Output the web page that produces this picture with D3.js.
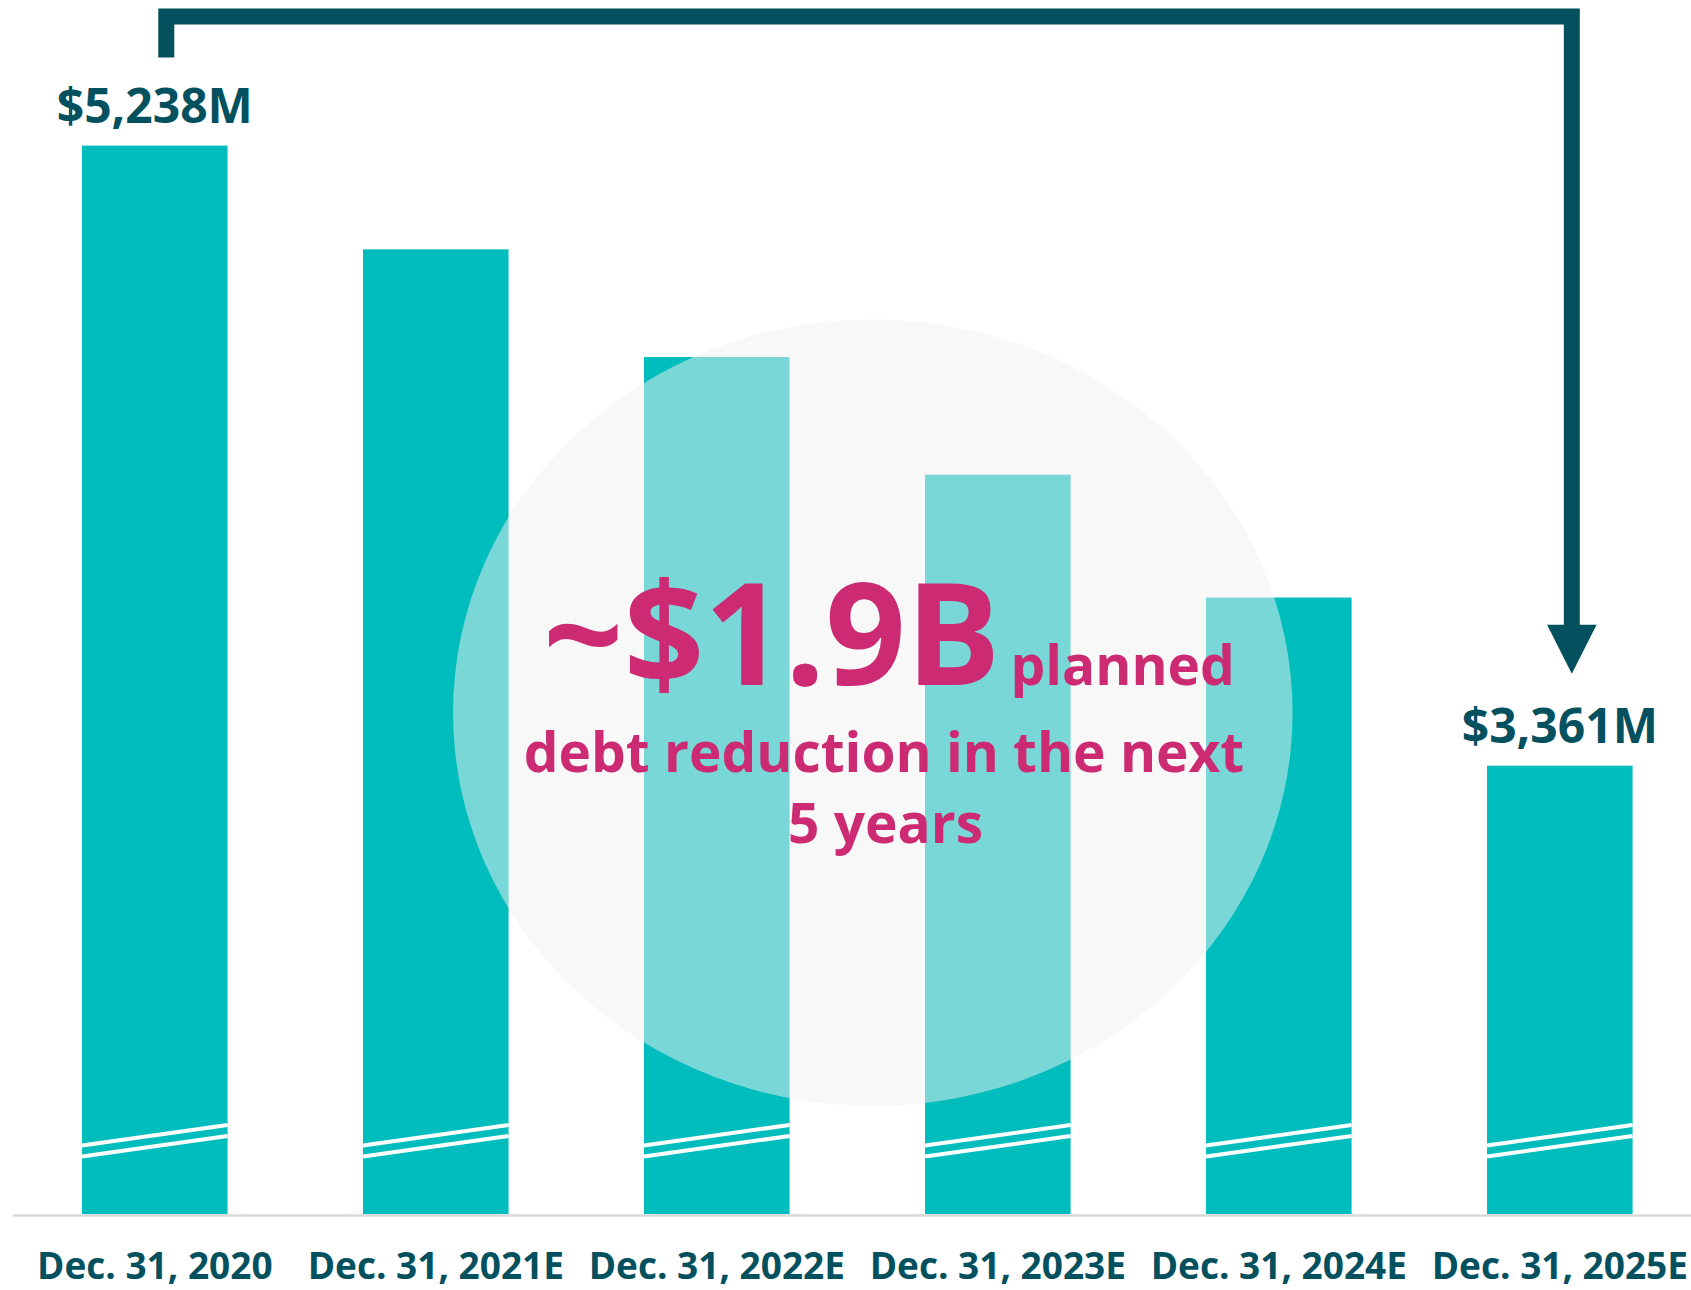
<!DOCTYPE html>
<html>
<head>
<meta charset="utf-8">
<script src="https://cdn.jsdelivr.net/npm/d3@7/dist/d3.min.js"></script>
<style>
  html, body { margin: 0; padding: 0; background: #ffffff; }
  svg { display: block; }
  text { font-family: "Open Sans", "Noto Sans", sans-serif; font-weight: 700; }
</style>
</head>
<body>
<svg id="chart" width="1691" height="1290"></svg>
<script>
// ---- data ----
const categories = ["Dec. 31, 2020", "Dec. 31, 2021E", "Dec. 31, 2022E", "Dec. 31, 2023E", "Dec. 31, 2024E", "Dec. 31, 2025E"];
const debtValues = [5238, 4924, 4598, 4242, 3870, 3361];
const valueLabels = ["$5,238M", null, null, null, null, "$3,361M"];
const calloutBig = "~$1.9B";
const calloutLines = ["planned", "debt reduction in the next", "5 years"];

// ---- colours ----
const barColor = "#00BDBD";
const darkTeal = "#03505E";
const magenta = "#CC2A72";

const svg = d3.select("#chart");
const W = 1691, H = 1290;
const baseY = 1214;

const x = d3.scaleBand().domain(categories).range([82, 1632.6]).paddingInner(0.482).paddingOuter(0);
const y = d3.scaleLinear().domain([2004, 5238]).range([baseY, 145.6]);

// bars
svg.append("g").selectAll("rect").data(debtValues).join("rect")
  .attr("x", (d, i) => x(categories[i]))
  .attr("y", d => y(d))
  .attr("width", x.bandwidth())
  .attr("height", d => baseY - y(d))
  .attr("fill", barColor);

// axis break marks
const breaks = svg.append("g").attr("stroke", "#ffffff").attr("stroke-width", 4);
categories.forEach(c => {
  const x0 = x(c), x1 = x(c) + x.bandwidth();
  [[68.5, 89], [57.5, 78]].forEach(([l, r]) => {
    breaks.append("line").attr("x1", x0).attr("y1", baseY - l).attr("x2", x1).attr("y2", baseY - r);
  });
});

// baseline axis
const xAxis = d3.axisBottom(x).tickSize(0).tickPadding(0);
const axisG = svg.append("g").attr("transform", `translate(0,${baseY + 1.5})`).call(xAxis);
axisG.select(".domain").attr("d", `M13,0H${W}`).attr("stroke", "#D9D9D9").attr("stroke-width", 2.5);
axisG.selectAll(".tick text")
  .attr("y", 0).attr("dy", 0)
  .attr("transform", "translate(0,63)")
  .attr("fill", darkTeal)
  .style("font-size", "37px")
  .style("font-family", "'Open Sans', sans-serif")
  .style("font-weight", 700);

// callout ellipse
svg.append("ellipse")
  .attr("cx", 872.8).attr("cy", 712.7).attr("rx", 419.8).attr("ry", 393.3)
  .attr("fill", "#F2F2F2").attr("fill-opacity", 0.5);

// callout text
const t1 = svg.append("text").attr("x", 889).attr("y", 685).attr("text-anchor", "middle").attr("fill", magenta);
t1.append("tspan").style("font-size", "141px").text(calloutBig);
t1.append("tspan").style("font-size", "55px").attr("dx", 10).text(calloutLines[0]);
svg.append("text").attr("x", 884).attr("y", 772).attr("text-anchor", "middle").attr("fill", magenta)
  .style("font-size", "55px").text(calloutLines[1]);
svg.append("text").attr("x", 885.5).attr("y", 843).attr("text-anchor", "middle").attr("fill", magenta)
  .style("font-size", "55px").text(calloutLines[2]);

// value labels
svg.append("g").selectAll("text").data(debtValues.map((v, i) => ({v, i, label: valueLabels[i]})).filter(d => d.label))
  .join("text")
  .attr("x", d => x(categories[d.i]) + x.bandwidth() / 2)
  .attr("y", d => y(d.v) - 23)
  .attr("text-anchor", "middle")
  .attr("fill", darkTeal)
  .style("font-size", "48px")
  .text(d => d.label);

// bracket arrow from first to last bar
const first = 0, last = debtValues.length - 1;
const lx = x(categories[first]) + x.bandwidth() / 2 + 11.5;
const rx = x(categories[last]) + x.bandwidth() / 2 + 12;
const topY = 16.5;
const leftBottom = y(debtValues[first]) - 88;
const tipY = y(debtValues[last]) - 92;
const headH = 49, headW = 49.5;
svg.append("path")
  .attr("d", `M${lx},${leftBottom}V${topY}H${rx}V${tipY - headH + 1}`)
  .attr("fill", "none").attr("stroke", darkTeal).attr("stroke-width", 16)
  .attr("stroke-linejoin", "miter");
svg.append("path")
  .attr("d", `M${rx - headW / 2},${tipY - headH}L${rx + headW / 2},${tipY - headH}L${rx},${tipY}Z`)
  .attr("fill", darkTeal);
</script>
</body>
</html>
